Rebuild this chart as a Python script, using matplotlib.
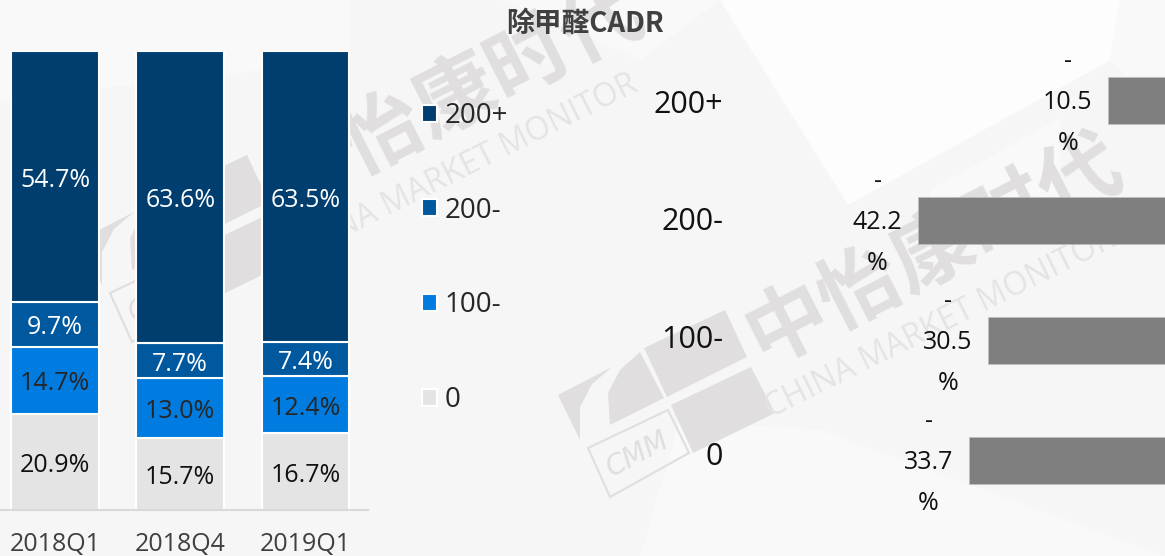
import matplotlib
matplotlib.use("Agg")
import matplotlib.pyplot as plt
from matplotlib.patches import Polygon

W, H = 1165, 556
FONTS = ["Open Sans", "Noto Sans CJK SC", "DejaVu Sans"]
plt.rcParams["font.family"] = FONTS

quarters = ["2018Q1", "2018Q4", "2019Q1"]
series_names = ["0", "100-", "200-", "200+"]
share_0 = [20.9, 15.7, 16.7]
share_100 = [14.7, 13.0, 12.4]
share_200m = [9.7, 7.7, 7.4]
share_200p = [54.7, 63.6, 63.5]
colors = ["#e4e4e4", "#007bdf", "#00589f", "#003e70"]
text_colors = ["#111111", "#262626", "white", "white"]

change_names = ["200+", "200-", "100-", "0"]
change_values = [-10.5, -42.2, -30.5, -33.7]


def px_axes(fig, left, top, right, bottom, **kw):
    return fig.add_axes([left / W, 1 - bottom / H, (right - left) / W, (bottom - top) / H], **kw)


def watermark(bg, dx, dy):
    gray = "#e0dede"
    shapes = [
        [(644, 348), (725, 310), (747, 357), (667, 397)],
        [(671, 405), (751, 367), (775, 413), (693, 453)],
        [(640, 352), (664, 398), (610, 425), (608, 393), (620, 370)],
        [(558, 395), (612, 367), (592, 384), (580, 407), (580, 440)],
    ]
    for s in shapes:
        bg.add_patch(Polygon([(x + dx, y + dy) for x, y in s], fc=gray, ec="none"))
    box = [(588, 448), (668, 410), (689, 453), (610, 497)]
    bg.add_patch(Polygon([(x + dx, y + dy) for x, y in box], fc="none", ec=gray, lw=1.5))
    bg.text(638 + dx, 454 + dy, "CMM", color=gray, fontsize=20, rotation=28, style="italic",
            ha="center", va="center", rotation_mode="anchor", family="Liberation Sans Narrow")
    bg.text(935 + dx, 252 + dy, "中怡康时代", color=gray, fontsize=59, weight="bold", rotation=27,
            ha="center", va="center", rotation_mode="anchor", family=FONTS)
    bg.text(940 + dx, 324 + dy, "CHINA MARKET MONITOR", color="#e4e4e4", fontsize=23, rotation=26.5,
            ha="center", va="center", rotation_mode="anchor", family=FONTS)


fig = plt.figure(figsize=(W / 100, H / 100), dpi=100, facecolor="#f6f6f6")

# background with the pale wedges and the watermark
bg = fig.add_axes([0, 0, 1, 1], zorder=0)
bg.set_xlim(0, W)
bg.set_ylim(H, 0)
bg.axis("off")
for wedge, c in [
    ([(720, 0), (1165, 0), (1165, 30), (848, 205)], "#fdfdfd"),
    ([(350, 0), (720, 0), (640, 60), (500, 0)], "#f9f9f9"),
    ([(0, 0), (350, 0), (350, 60), (0, 100)], "#f9f9f9"),
    ([(640, 556), (680, 420), (820, 430), (1165, 556)], "#f9f9f9"),
    ([(1120, 0), (1165, 0), (1165, 120), (1110, 60)], "#f9f9f9"),
]:
    bg.add_patch(Polygon(wedge, fc=c, ec="none"))
watermark(bg, 0, 0)
watermark(bg, -478, -155)
# part of the watermark fades out above the second bar
bg.add_patch(Polygon([(930, 200), (1060, 200), (1060, 118), (930, 190)], fc="#fbfbfb", ec="none", alpha=0.7))

# stacked share bars
ax = px_axes(fig, -7.6, 51, 368, 510, zorder=2)
ax.patch.set_alpha(0)
bottoms = [0, 0, 0]
stack = [share_0, share_100, share_200m, share_200p]
for name, values, c, tc in zip(series_names, stack, colors, text_colors):
    bars = ax.bar(quarters, values, width=0.7, bottom=bottoms, color=c, edgecolor="white",
                  linewidth=1.5, label=name)
    texts = ax.bar_label(bars, labels=["%.1f%%" % v for v in values], label_type="center", color=tc,
                         fontsize=18)
    for t in texts:
        t.xyann = (0, -2.5)
    bottoms = [b + v for b, v in zip(bottoms, values)]
ax.set_xlim(-0.5, 2.5)
ax.set_ylim(0, 100)
ax.set_yticks([])
for side in ["top", "left", "right"]:
    ax.spines[side].set_visible(False)
ax.spines["bottom"].set_color("#d9d9d9")
ax.spines["bottom"].set_linewidth(1.5)
ax.tick_params(axis="x", length=0, pad=16, labelsize=18, labelcolor="#404040")

handles, labels = ax.get_legend_handles_labels()
fig.legend(handles[::-1], labels[::-1], loc="upper left", bbox_to_anchor=(422 / W, 1 - 102 / H),
           frameon=False, fontsize=20, labelcolor="#262626", handlelength=0.55, handleheight=0.55,
           handletextpad=0.25, labelspacing=2.4, borderpad=0, borderaxespad=0)

fig.text(585 / W, 1 - 24 / H, "除甲醛CADR", ha="center", va="center", fontsize=20, weight="bold",
         color="#404040", family=["Noto Sans CJK SC", "DejaVu Sans"], zorder=5)

# change bars, the zero line sits just past the right edge
ax2 = px_axes(fig, 730, 40, 1171, 521, zorder=2)
ax2.patch.set_alpha(0)
ax2.barh(change_names, change_values, height=0.39, color="#7f7f7f", edgecolor="#bfbfbf", linewidth=0.5)
ax2.set_xlim(-441 / 6.0, 0)
ax2.set_ylim(3.5, -0.5)
ax2.axis("off")
for i, v in enumerate(change_values):
    ax2.annotate("-\n%.1f\n%%" % abs(v), (v, i), xytext=(-29, -1.5), textcoords="offset points",
                 ha="center", va="center", fontsize=18, color="#111111", linespacing=1.84)

# category names are spaced a little tighter than the bars
ax3 = px_axes(fig, 730, 42.2, 1171, 512.8, zorder=3)
ax3.patch.set_alpha(0)
ax3.set_ylim(3.5, -0.5)
ax3.set_yticks(range(len(change_names)), change_names)
ax3.set_xticks([])
for side in ax3.spines:
    ax3.spines[side].set_visible(False)
ax3.tick_params(axis="y", length=0, pad=5, labelsize=22, labelcolor="#111111")

fig.savefig("out.png", dpi=100, facecolor=fig.get_facecolor())
